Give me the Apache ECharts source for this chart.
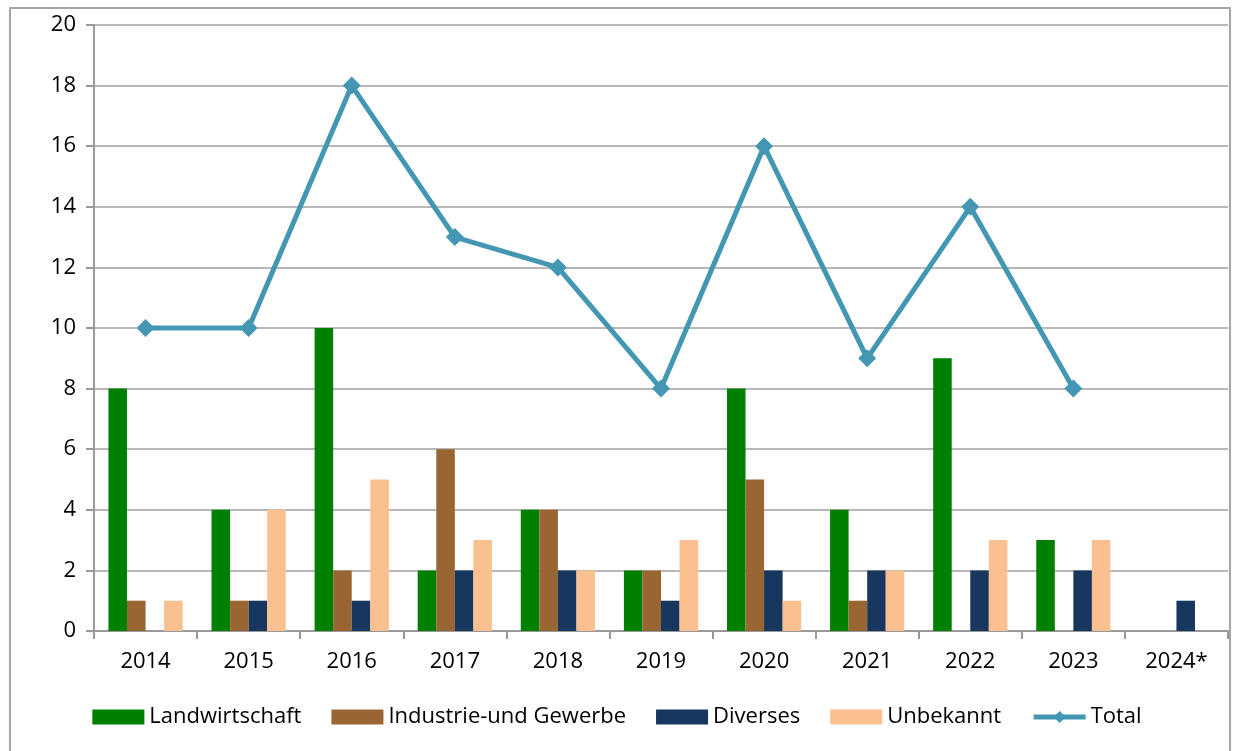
<!DOCTYPE html>
<html><head><meta charset="utf-8">
<script src="https://cdn.jsdelivr.net/npm/echarts@6/dist/echarts.min.js"></script>
<style>html,body{margin:0;padding:0;background:#fff}#c{width:1234px;height:751px}</style>
</head><body><div id="c"></div>
<script>
const categories = ['2014','2015','2016','2017','2018','2019','2020','2021','2022','2023','2024*'];
const landwirtschaft = [8,4,10,2,4,2,8,4,9,3,0];
const industrie = [1,1,2,6,4,2,5,1,0,0,0];
const diverses = [0,1,1,2,2,1,2,2,2,2,1];
const unbekannt = [1,4,5,3,2,3,1,2,3,3,0];
const total = [10,10,18,13,12,8,16,9,14,8,null];
const yTicks = {min:0, max:20, interval:2};

const chart = echarts.init(document.getElementById('c'));
const font = 'Open Sans, Noto Sans, sans-serif';
const bar = (name, data, color) => ({name, type:'bar', data, barGap:'0%', barCategoryGap:'28%', itemStyle:{color, borderRadius:0}, emphasis:{disabled:true}});
chart.setOption({
  animation:false,
  graphic:[{type:'rect', shape:{x:10,y:8,width:1220,height:800}, style:{fill:'none', stroke:'#A6A6A6', lineWidth:2}, silent:true}],
  grid:{left:94, right:6, top:25, bottom:120},
  legend:{
    bottom:18, left:'center', itemGap:30, itemWidth:52, itemHeight:15,
    textStyle:{fontFamily:font, fontSize:22, color:'#000'},
    data:[{name:'Landwirtschaft', icon:'rect'},{name:'Industrie-und Gewerbe', icon:'rect'},{name:'Diverses', icon:'rect'},{name:'Unbekannt', icon:'rect'},{name:'Total', itemStyle:{color:'#4397B3'}, lineStyle:{width:5, color:'#4397B3'}}]
  },
  xAxis:{type:'category', data:categories,
    axisLine:{lineStyle:{color:'#999', width:2}},
    axisTick:{show:true, length:8, lineStyle:{color:'#999', width:2}},
    axisLabel:{fontFamily:font, fontSize:22, color:'#000', margin:20}},
  yAxis:{type:'value', min:yTicks.min, max:yTicks.max, interval:yTicks.interval,
    axisLine:{show:true, lineStyle:{color:'#999', width:2}},
    axisTick:{show:true, length:8, lineStyle:{color:'#999', width:2}},
    splitLine:{lineStyle:{color:'#A0A0A0', width:1.5}},
    axisLabel:{fontFamily:font, fontSize:22, color:'#000', margin:18}},
  series:[
    bar('Landwirtschaft', landwirtschaft, '#008000'),
    bar('Industrie-und Gewerbe', industrie, '#996633'),
    bar('Diverses', diverses, '#17375E'),
    bar('Unbekannt', unbekannt, '#FAC090'),
    {name:'Total', type:'line', data:total, symbol:'diamond', symbolSize:18,
      lineStyle:{color:'#4397B3', width:5}, itemStyle:{color:'#4397B3'}, emphasis:{disabled:true}}
  ]
});
</script></body></html>
